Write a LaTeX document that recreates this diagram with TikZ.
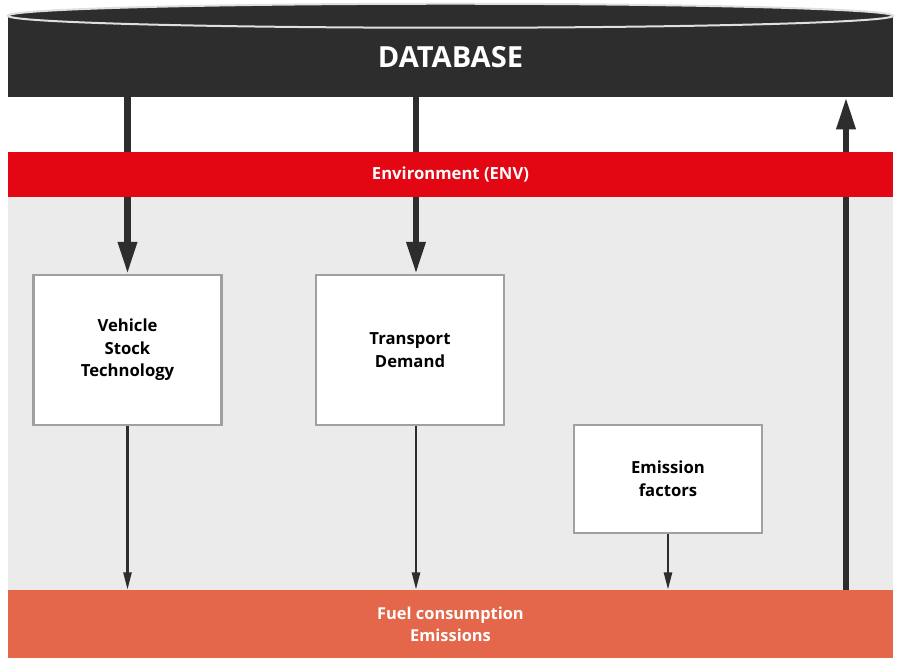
\documentclass[tikz,border=0pt]{standalone}
\usepackage{fontspec}
\setmainfont{Open Sans}
\usetikzlibrary{arrows.meta}
\definecolor{dbdark}{HTML}{2D2D2D}
\definecolor{envred}{HTML}{E30613}
\definecolor{outorange}{HTML}{E4674B}
\definecolor{bggray}{HTML}{EBEBEB}
\definecolor{boxline}{HTML}{A0A0A0}
\begin{document}
\begin{tikzpicture}[x=0.75pt,y=-0.75pt]
\tikzset{band/.style={inner sep=0pt, minimum width=663.75pt, text=white, font=\bfseries, align=center},
  module/.style={draw=boxline, line width=1.6pt, fill=white, minimum width=141pt, align=center,
    font=\fontsize{12.5}{17}\selectfont\bfseries},
  bigarrow/.style={draw=dbdark, line width=4.8pt, -{Triangle[width=13.5pt,length=24pt]}},
  thinarrow/.style={draw=dbdark, line width=1.8pt, -{Triangle[width=6pt,length=13pt]}}}
\useasboundingbox (0,0) rectangle (901,660);
% background areas
\fill [bggray] (8,197) rectangle (893,590);
% modules
\node [module, minimum height=112.5pt] (vst) at (127.5,350) {Vehicle\\Stock\\Technology};
\node [module, minimum height=112.5pt] (td) at (410,350) {Transport\\Demand};
\node [module, minimum height=81pt] (ef) at (668,479) {Emission\\factors};
% database and output band
\node [band, fill=dbdark, minimum height=60.75pt] (db) at (450.5,56.5) {};
\node [band, fill=outorange, minimum height=51pt, font=\fontsize{12.3}{16.5}\selectfont\bfseries] (out) at (450.5,624) {Fuel consumption\\Emissions};
\coordinate (ret) at (846,0);
% arrows
\draw [bigarrow] (db.south -| vst.north) -- (vst.north);
\draw [bigarrow] ([xshift=4.5pt]db.south -| td.north) -- ([xshift=4.5pt]td.north);
\draw [thinarrow] (vst.south) -- (vst.south |- out.north);
\draw [thinarrow] ([xshift=4.5pt]td.south) -- ([xshift=4.5pt]td.south |- out.north);
\draw [thinarrow] (ef.south) -- (ef.south |- out.north);
\draw [bigarrow] (out.north -| ret) -- (db.south -| ret);
% environment band on top of the arrows
\node [band, fill=envred, minimum height=33.75pt, font=\fontsize{12.5}{14}\selectfont\bfseries] (env) at (450.5,174.5) {Environment (ENV)};
% database top
\fill [dbdark, draw=gray!25, line width=1.5pt] (db.north) ellipse [x radius=332pt, y radius=9pt];
\node [text=white, font=\fontsize{21.8}{24}\selectfont\bfseries] (dbtext) at (450.5,57) {DATABASE};
\end{tikzpicture}
\end{document}
